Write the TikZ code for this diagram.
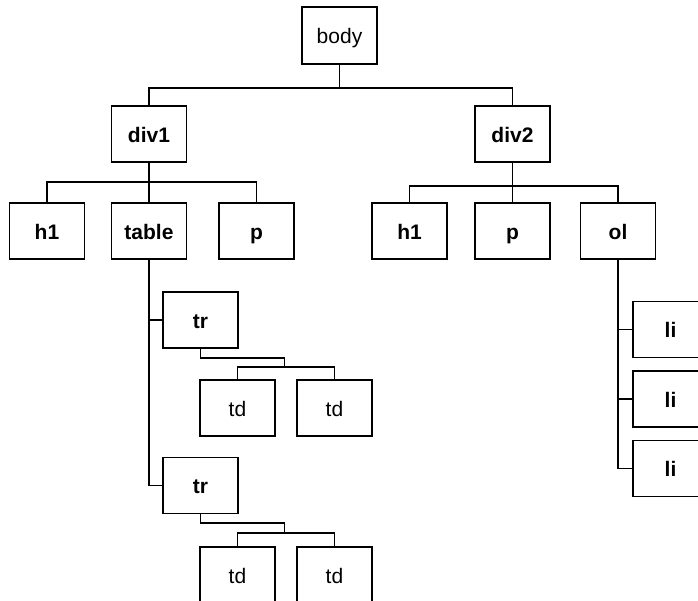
\documentclass[tikz,border=0pt]{standalone}
\usepackage{fontspec}
\setmainfont{Liberation Sans}
\begin{document}
\begin{tikzpicture}[x=1pt,y=-1pt,line width=1.1pt,
  elem/.style={draw,minimum width=75pt,minimum height=56pt,inner sep=0pt,text height=16.5pt,text depth=0pt,font=\fontsize{21}{24}\selectfont\bfseries},
  plain/.style={elem,font=\fontsize{21}{24}\selectfont}]
\useasboundingbox (0,0) rectangle (698,600);
\node[plain,minimum height=57pt] (body) at (339.5,35.5) {body};
\node[elem] (div1) at (149,134) {div1};
\node[elem] (div2) at (512.5,134) {div2};
\node[elem] (h1a) at (47,231) {h1};
\node[elem] (table) at (149,231) {table};
\node[elem] (pa) at (256.5,231) {p};
\node[elem] (h1b) at (409.5,231) {h1};
\node[elem] (pb) at (512.5,231) {p};
\node[elem] (ol) at (618,231) {ol};
\node[elem] (tr1) at (200.5,320) {tr};
\node[elem] (tr2) at (200.5,485.5) {tr};
\node[plain] (td1) at (237.5,408) {td};
\node[plain] (td2) at (334.5,408) {td};
\node[plain] (td3) at (237.5,575) {td};
\node[plain] (td4) at (334.5,575) {td};
\node[elem] (li1) at (670.5,329.5) {li};
\node[elem] (li2) at (670.5,399) {li};
\node[elem] (li3) at (670.5,468.5) {li};
% body
\coordinate (busA) at (339.5,88);
\draw (body.south) -- (busA);
\draw (div1.north) |- (busA) -| (div2.north);
% div1
\coordinate (bus1) at (149,182);
\draw (div1.south) -- (bus1) -- (table.north);
\draw (h1a.north) |- (bus1) -| (pa.north);
% div2
\coordinate (bus2) at (512.5,186);
\draw (div2.south) -- (bus2) -- (pb.north);
\draw (h1b.north) |- (bus2) -| (ol.north);
% table
\draw (table.south) |- (tr2.west);
\draw (table.south |- tr1.west) -- (tr1.west);
% tr1
\coordinate (t1a) at (284.5,358);
\coordinate (t1b) at (284.5,367);
\draw (tr1.south) |- (t1a) -- (t1b);
\draw (td1.north) |- (t1b) -| (td2.north);
% tr2
\coordinate (t2a) at (284.5,523);
\coordinate (t2b) at (284.5,533);
\draw (tr2.south) |- (t2a) -- (t2b);
\draw (td3.north) |- (t2b) -| (td4.north);
% ol
\draw (ol.south) |- (li3.west);
\draw (ol.south |- li1.west) -- (li1.west);
\draw (ol.south |- li2.west) -- (li2.west);
\end{tikzpicture}
\end{document}
